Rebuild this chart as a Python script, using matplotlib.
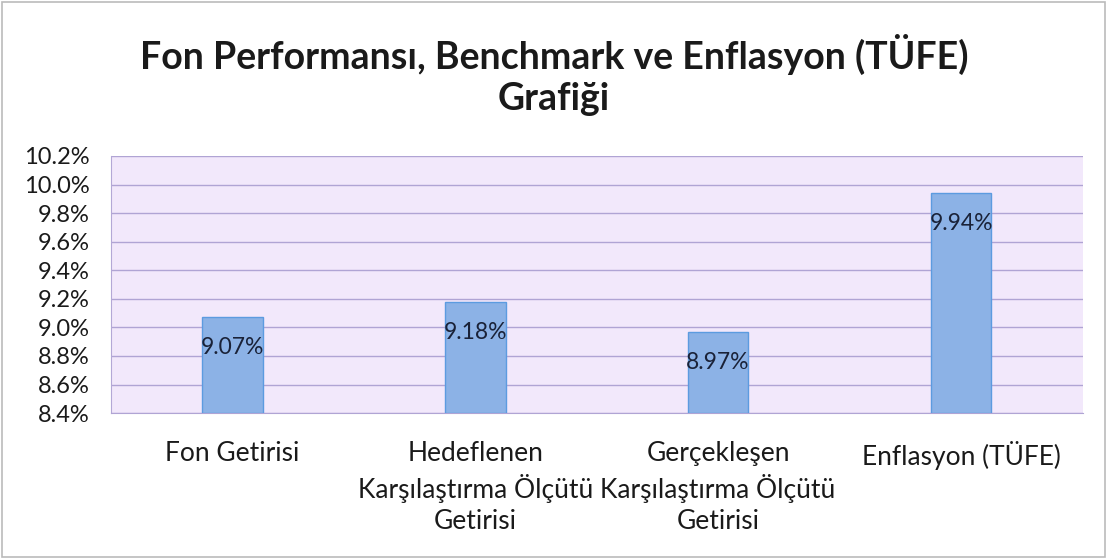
import matplotlib.pyplot as plt
from matplotlib.patches import Rectangle

# chart data
categories = ['Fon Getirisi',
              'Hedeflenen\nKarşılaştırma Ölçütü\nGetirisi',
              'Gerçekleşen\nKarşılaştırma Ölçütü\nGetirisi',
              'Enflasyon (TÜFE)']
values = [9.07, 9.18, 8.97, 9.94]
value_labels = ['9.07%', '9.18%', '8.97%', '9.94%']
yticks = [8.4, 8.6, 8.8, 9.0, 9.2, 9.4, 9.6, 9.8, 10.0, 10.2]
ytick_labels = ['8.4%', '8.6%', '8.8%', '9.0%', '9.2%', '9.4%', '9.6%', '9.8%', '10.0%', '10.2%']

plt.rcParams['font.family'] = ['Lato', 'DejaVu Sans']

fig = plt.figure(figsize=(11.08, 5.59), dpi=100)
fig.patch.set_facecolor('white')
ax = fig.add_axes([0.100, 0.261, 0.877, 0.460])
ax.set_facecolor('#F2E8FB')

x = range(len(categories))
ax.bar(x, [v - 8.4 for v in values], bottom=8.4, width=0.25,
       color='#8CB2E6', edgecolor='#5C9BE0', linewidth=1, zorder=3)

for i, v in enumerate(values):
    ax.annotate(value_labels[i], (i, v), xytext=(0, -22), textcoords='offset points',
                ha='center', va='center', fontsize=16.5, color='#1A2238', zorder=4)

ax.set_xlim(-0.5, 3.5)
ax.set_ylim(8.4, 10.2)
ax.set_yticks(yticks)
ax.set_yticklabels(ytick_labels, fontsize=17, color='#1A1A1A')
ax.set_xticks(list(x))
ax.set_xticklabels(categories, fontsize=19, color='#1A1A1A', linespacing=1.32, va='top')
ax.tick_params(axis='both', length=0)
ax.tick_params(axis='x', pad=20)
ax.tick_params(axis='y', pad=15)
ax.grid(axis='y', color='#B0A4D4', linewidth=1, zorder=1)
for s in ax.spines.values():
    s.set_visible(False)
ax.spines['left'].set_visible(True)
ax.spines['left'].set_color('#B4A8D6')
ax.spines['bottom'].set_visible(True)
ax.spines['bottom'].set_color('#B0A4D4')

fig.text(0.5, 0.865, 'Fon Performansı, Benchmark ve Enflasyon (TÜFE)\nGrafiği',
         ha='center', va='center', fontsize=27, fontweight='bold', color='#1A1A1A', linespacing=1.25)

fig.add_artist(Rectangle((0.002, 0.004), 0.995, 0.992, transform=fig.transFigure,
                         fill=False, edgecolor='#BBBBBB', linewidth=1.2))

fig.savefig('out.png', dpi=100)
